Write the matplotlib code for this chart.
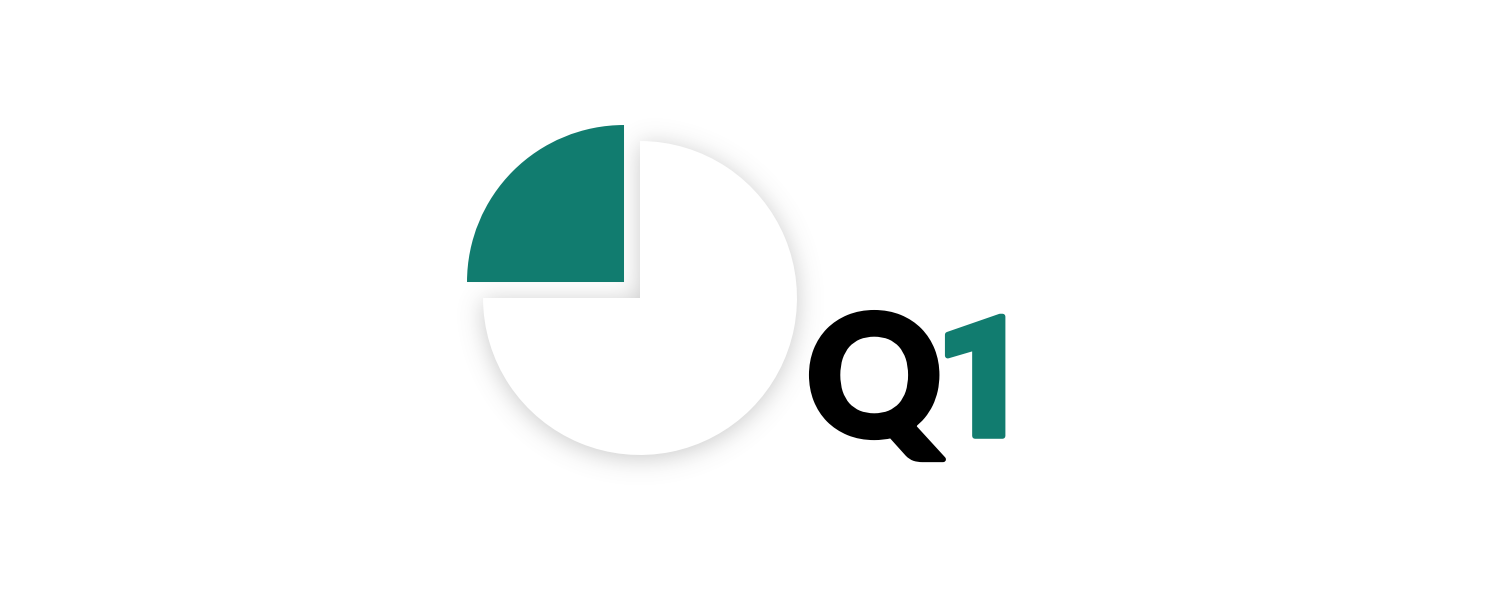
import numpy as np
import matplotlib
matplotlib.use("Agg")
import matplotlib.pyplot as plt
import matplotlib.patheffects as pe

# data
labels = ["Q1", "Rest"]
values = [25, 75]
colors = ["#117C6F", "#FFFFFF"]
explode = [0.144, 0.0]
title_letter = "Q"
title_number = "1"

W, H = 1494, 598
R = 157.0            # pie radius in pixels
CX, CY = 640.0, 300  # pie centre in pixels (y up)

fig = plt.figure(figsize=(W / 100, H / 100), dpi=100)
fig.patch.set_facecolor("white")
ax = fig.add_axes([0, 0, 1, 1])

wedges, _ = ax.pie(values, colors=colors, explode=explode, startangle=90,
                   counterclock=True, radius=1,
                   wedgeprops=dict(linewidth=0), frame=True)
xl = (-CX / R, (W - CX) / R)
yl = (-CY / R, (H - CY) / R)
ax.set_xlim(*xl)
ax.set_ylim(*yl)
ax.set_aspect("auto")
ax.axis("off")

# soft drop shadow beneath the white slice
fig.canvas.draw()
path = wedges[1].get_path().transformed(wedges[1].get_transform())  # display px
yy, xx = np.mgrid[0:H, 0:W]
pts = np.column_stack([xx.ravel() + 0.5, yy.ravel() + 0.5 + 3])
mask = path.contains_points(pts).reshape(H, W).astype(float)
sigma = 12.0
k = np.arange(-40, 41)
g = np.exp(-k ** 2 / (2 * sigma ** 2))
g /= g.sum()
blur = np.apply_along_axis(lambda r: np.convolve(r, g, mode="same"), 1, mask)
blur = np.apply_along_axis(lambda c: np.convolve(c, g, mode="same"), 0, blur)
rgba = np.zeros((H, W, 4))
rgba[..., :3] = 0.45
rgba[..., 3] = blur * 0.38
ax.imshow(rgba, extent=(xl[0], xl[1], yl[0], yl[1]), origin="lower",
          zorder=0.5, interpolation="bilinear", aspect="auto")
for w in wedges:
    w.set_zorder(2)

def heavy(color):
    return [pe.withStroke(linewidth=4, foreground=color, capstyle="round",
                          joinstyle="round")]

fig.text(806 / W, 1 - 436 / H, title_letter, fontsize=121, family="Lato",
         fontweight="black", color="black", ha="left", va="baseline",
         path_effects=heavy("black"))
fig.text(934 / W, 1 - 436 / H, title_number, fontsize=121, family="Roboto",
         fontweight="black", color="#117C6F", ha="left", va="baseline",
         path_effects=heavy("#117C6F"))

fig.savefig("out.png", dpi=100, facecolor="white")
